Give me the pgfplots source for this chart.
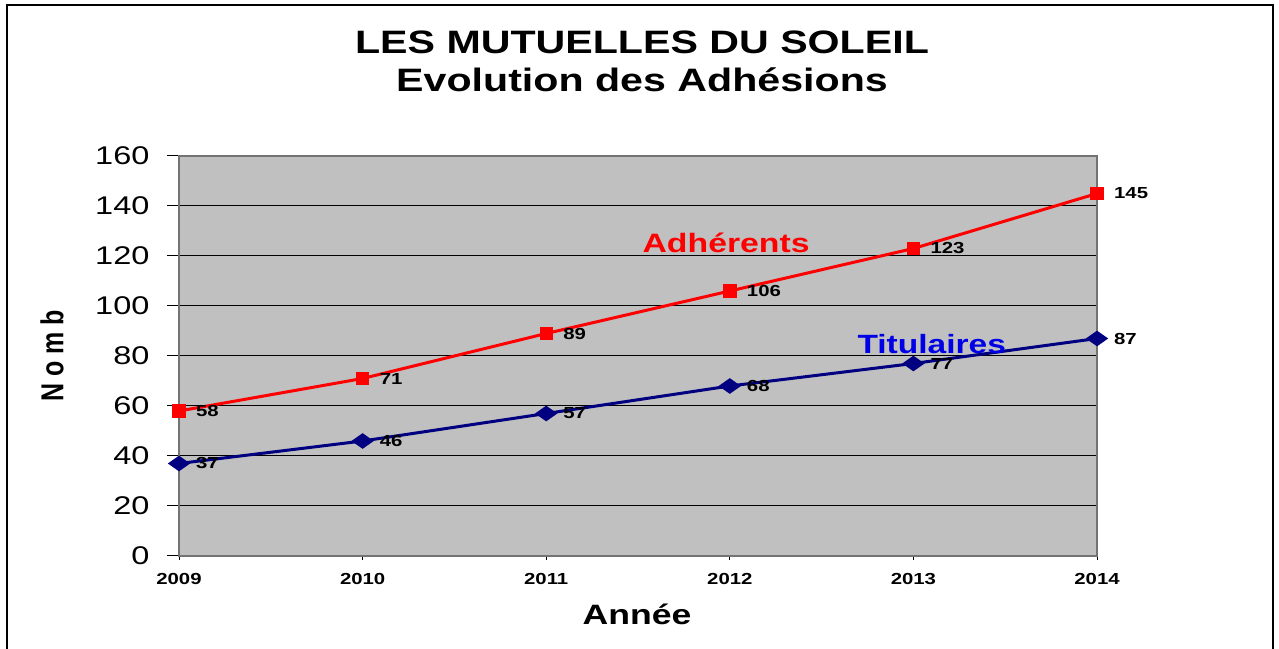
\documentclass[border=0pt]{standalone}
\usepackage{fontspec}
\setmainfont{Liberation Sans}[FakeStretch=1.27]
\newfontfamily\plainfont{Liberation Sans}
\usepackage{graphicx}
\usepackage{pgfplots}
\pgfplotsset{compat=1.18}

\definecolor{plotbg}{RGB}{192,192,192}
\definecolor{adhred}{RGB}{255,0,0}
\definecolor{titnavy}{RGB}{0,0,128}
\definecolor{titblue}{RGB}{0,0,230}

\begin{document}
\begin{tikzpicture}
\useasboundingbox (0,0) rectangle (639.5pt,324pt);
% chart frame (bottom edge lies below the picture)
\draw[line width=1pt] (3.5pt,-3pt) -- (3.5pt,321.5pt) -- (636.5pt,321.5pt) -- (636.5pt,-3pt);

\node[anchor=base, font=\bfseries\fontsize{16.2}{18}\selectfont] at (321pt,297pt) {LES MUTUELLES DU SOLEIL};
\node[anchor=base, font=\bfseries\fontsize{16.2}{18}\selectfont] at (321pt,278pt) {Evolution des Adhésions};
\node[rotate=90] at (26pt,146pt) {\scalebox{1}[1.27]{\plainfont\bfseries\fontsize{12.5}{15}\selectfont N o m b}};
\node[font=\bfseries\fontsize{14}{16}\selectfont] at (318.5pt,17pt) {Année};

\begin{axis}[
    at={(89.5pt,46pt)}, anchor=south west,
    scale only axis,
    width=459pt, height=200pt,
    xmin=2009, xmax=2014,
    ymin=0, ymax=160,
    xtick={2009,2010,2011,2012,2013,2014},
    xticklabels={2009,2010,2011,2012,2013,2014},
    ytick={0,20,...,160},
    ymajorgrids,
    grid style={black, line width=0.5pt},
    axis background/.style={fill=plotbg},
    axis line style={draw=black!55, line width=0.7pt},
    tick align=outside,
    tick pos=left,
    ytick style={black, line width=0.5pt, /pgfplots/major tick length=6pt},
    xtick style={black, line width=0.5pt, /pgfplots/major tick length=2pt},
    /pgf/number format/assume math mode=true,
    yticklabel style={font=\fontsize{12.8}{14}\selectfont, xshift=-7pt},
    xticklabel style={font=\bfseries\fontsize{8}{10}\selectfont, yshift=-1pt},
    clip=false,
    nodes near coords,
    nodes near coords style={font=\bfseries\fontsize{8}{10}\selectfont, black, anchor=west, xshift=4.5pt, yshift=0pt},
]
\addplot[color=adhred, line width=1.5pt, mark=square*, mark size=2.6pt, mark options={solid}]
  coordinates {(2009,58) (2010,71) (2011,89) (2012,106) (2013,123) (2014,145)};
\addplot[color=titnavy, line width=1.5pt, mark=diamond*, mark size=3pt, mark options={solid, xscale=1.9}]
  coordinates {(2009,37) (2010,46) (2011,57) (2012,68) (2013,77) (2014,87)};
\node[font=\bfseries\fontsize{13.3}{15}\selectfont, text=adhred] at (axis cs:2011.98,125.2) {Adhérents};
\node[font=\bfseries\fontsize{13.2}{15}\selectfont, text=titblue] at (axis cs:2013.1,84.8) {Titulaires};
\end{axis}
\end{tikzpicture}
\end{document}
